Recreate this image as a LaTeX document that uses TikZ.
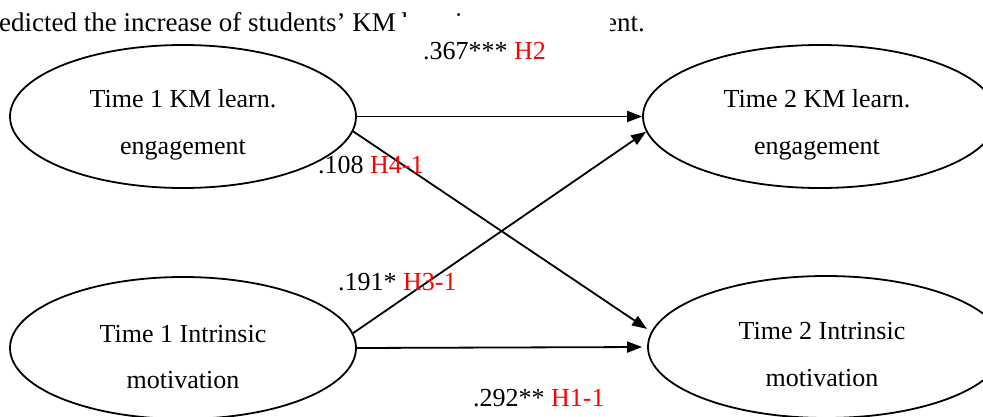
\documentclass[tikz,border=0pt]{standalone}
\usepackage{fontspec}
\setmainfont{Liberation Serif}
\usetikzlibrary{shapes.geometric,arrows.meta}
\definecolor{hred}{RGB}{255,0,0}
\tikzset{
  latent/.style={draw, ellipse, line width=1.8pt, inner sep=0pt, minimum width=#1},
  txt/.style={inner sep=0pt, anchor=base, font=\fontsize{26pt}{30pt}\selectfont},
  sent/.style={inner sep=0pt, font=\fontsize{27pt}{31pt}\selectfont},
  lbl/.style={inner sep=0pt, anchor=base west, font=\fontsize{26pt}{30pt}\selectfont},
  path/.style={line width=1.8pt, -{Triangle[length=15pt,width=11pt]}}
}
\begin{document}
\begin{tikzpicture}[x=1pt,y=-1pt]
\useasboundingbox (0,0) rectangle (983,417);
\clip (0,0) rectangle (983,417);
% partially hidden sentence at top
\node[sent, anchor=base east] (s1) at (396,32) {predicted the increase of students’ KM};
\node[sent, anchor=base west] (s2) at (401,32) {learning};
\node[sent, anchor=base east] (s3) at (645,32) {engagement.};
\node[fill=white, inner sep=0pt, minimum width=212pt, minimum height=53pt, anchor=north west] (mask) at (398,17) {};
% ellipses
\node[latent=346pt, minimum height=143pt] (t1e) at (183,116.5) {};
\node[latent=346pt, minimum height=142pt] (t1i) at (183,348) {};
\node[latent=354pt, minimum height=143pt] (t2e) at (820,116.5) {};
\node[latent=356pt, minimum height=142pt] (t2i) at (826,347) {};
% ellipse texts
\node[txt] (t1ea) at (183,108) {Time 1 KM learn.};
\node[txt] (t1eb) at (183,155) {engagement};
\node[txt] (t1ia) at (183,342) {Time 1 Intrinsic};
\node[txt] (t1ib) at (183,388) {motivation};
\node[txt] (t2ea) at (817,108) {Time 2 KM learn.};
\node[txt] (t2eb) at (817,155) {engagement};
\node[txt] (t2ia) at (822,339) {Time 2 Intrinsic};
\node[txt] (t2ib) at (822,386) {motivation};
% paths
\draw[path] (t1e.east) -- (t2e.west);
\draw[path, shorten >=5pt] (t1e.-5) -- (t2i.175);
\draw[path] (t1i.5) -- (t2e.185);
\draw[path, shorten >=5pt] (t1i.east) -- (t2i.west);
% coefficient labels
\node[lbl] (l2) at (423,60) {.367*** \textcolor{hred}{H2}};
\node[lbl] (l41) at (318,174) {.108 \textcolor{hred}{H4-1}};
\node[lbl] (l31) at (338,290) {.191* \textcolor{hred}{H3-1}};
\node[lbl] (l11) at (473,406) {.292** \textcolor{hred}{H1-1}};
\end{tikzpicture}
\end{document}
